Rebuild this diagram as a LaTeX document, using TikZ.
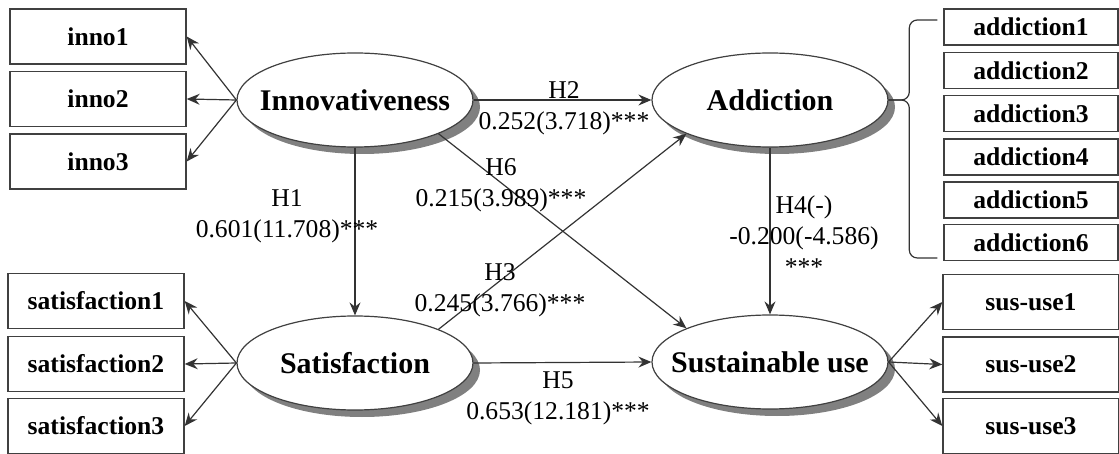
\documentclass[tikz,border=0pt]{standalone}
\usepackage{fontspec}
\setmainfont{Liberation Serif}
\usetikzlibrary{arrows.meta,shapes.geometric,shadows}

% latent variable text, kept out of the ellipse size
\newcommand{\lvar}[1]{\makebox[0pt]{#1}}

\tikzset{
  latent/.style={ellipse, draw=black!75, line width=0.6pt, fill=white,
    minimum width=118pt, minimum height=47pt, inner sep=0pt,
    font=\fontsize{15}{18}\selectfont\bfseries,
    drop shadow={shadow xshift=3.5pt, shadow yshift=-3.5pt, fill=black!50, opacity=1}},
  item/.style={rectangle, draw=black!75, line width=0.7pt,
    minimum width=88pt, minimum height=27.5pt, inner sep=0pt,
    font=\fontsize{12.8}{15}\selectfont\bfseries},
  aitem/.style={item, minimum width=87pt, minimum height=18pt},
  coef/.style={align=center, inner sep=0pt,
    font=\fontsize{12.8}{15.5}\selectfont},
}

\begin{document}
\begin{tikzpicture}[x=0.5pt,y=-0.5pt]
  \useasboundingbox (0,0) rectangle (1119,454);
  \draw
    (98,36.5) node[item] (inno1){inno1}
    (98,99) node[item] (inno2){inno2}
    (98,161.5) node[item] (inno3){inno3}
    (96,301) node[item] (sat1){satisfaction1}
    (96,364) node[item] (sat2){satisfaction2}
    (96,426) node[item] (sat3){satisfaction3}
    (1031,27) node[aitem] (add1){addiction1}
    (1031,70.5) node[aitem] (add2){addiction2}
    (1031,113.5) node[aitem] (add3){addiction3}
    (1031,157) node[aitem] (add4){addiction4}
    (1031,200) node[aitem] (add5){addiction5}
    (1031,242.5) node[aitem] (add6){addiction6}
    (1031,302) node[item] (sus1){sus-use1}
    (1031,364.5) node[item] (sus2){sus-use2}
    (1031,426) node[item] (sus3){sus-use3}
    (355,100) node[latent] (inno){\lvar{Innovativeness}}
    (770,100) node[latent] (add){\lvar{Addiction}}
    (355,363) node[latent] (sat){\lvar{Satisfaction}}
    (770,362) node[latent] (sus){\lvar{Sustainable use}};
  \begin{scope}[-{Stealth[length=6.5pt,width=5.5pt,inset=2.2pt]}, draw=black!80, line width=0.6pt]
    \draw (inno.west) to (inno1.east);
    \draw (inno.west) to (inno2.east);
    \draw (inno.west) to (inno3.east);
    \draw (sat.west) to (sat1.east);
    \draw (sat.west) to (sat2.east);
    \draw (sat.west) to (sat3.east);
    \draw (sus.east) to (sus1.west);
    \draw (sus.east) to (sus2.west);
    \draw (sus.east) to (sus3.west);
    \draw (inno.south) to (sat.north);
    \draw (inno.east) to (add.west);
    \draw (inno.-22) to (sus.158);
    \draw (sat.22) to (add.202);
    \draw (add.south) to (sus.north);
    \draw (sat.east) to (sus.west);
  \end{scope}
  % bracket round the addiction items
  \coordinate (btop) at ([shift={(-3pt,3.5pt)}]add1.west);
  \coordinate (bbot) at ([shift={(-3pt,-7.75pt)}]add6.west);
  \begin{scope}[draw=black!80, line width=0.6pt, rounded corners=4pt]
    \draw (btop) -- ++(-28,0) |- (add.east);
    \draw (bbot) -- ++(-28,0) |- (add.east);
  \end{scope}
  \node[coef] (h1) at (287,216) {H1\\0.601(11.708)***};
  \node[coef] (h2) at (564,108) {H2\\0.252(3.718)***};
  \node[coef] (h6) at (501,185) {H6\\0.215(3.989)***};
  \node[coef] (h3) at (500,290) {H3\\0.245(3.766)***};
  \node[coef] (h4) at (804,236) {H4(-)\\-0.200(-4.586)\\***};
  \node[coef] (h5) at (558,398) {H5\\0.653(12.181)***};
\end{tikzpicture}
\end{document}
